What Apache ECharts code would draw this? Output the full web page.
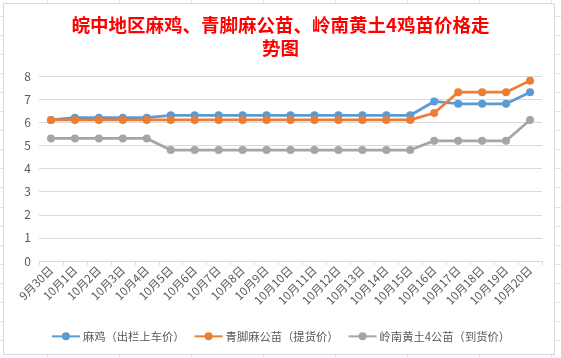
<!DOCTYPE html>
<html><head><meta charset="utf-8">
<script src="https://cdn.jsdelivr.net/npm/echarts@6/dist/echarts.min.js"></script>
<style>html,body{margin:0;padding:0;background:#fff}#c{width:561px;height:358px}</style>
</head><body><div id="c"></div>
<script>
const categories = ['9月30日','10月1日','10月2日','10月3日','10月4日','10月5日','10月6日','10月7日','10月8日','10月9日','10月10日','10月11日','10月12日','10月13日','10月14日','10月15日','10月16日','10月17日','10月18日','10月19日','10月20日'];
const maji = [6.1,6.2,6.2,6.2,6.2,6.3,6.3,6.3,6.3,6.3,6.3,6.3,6.3,6.3,6.3,6.3,6.9,6.8,6.8,6.8,7.3];
const qingjiao = [6.1,6.1,6.1,6.1,6.1,6.1,6.1,6.1,6.1,6.1,6.1,6.1,6.1,6.1,6.1,6.1,6.4,7.3,7.3,7.3,7.8];
const lingnan = [5.3,5.3,5.3,5.3,5.3,4.8,4.8,4.8,4.8,4.8,4.8,4.8,4.8,4.8,4.8,4.8,5.2,5.2,5.2,5.2,6.1];
const seriesNames = ['麻鸡（出栏上车价）','青脚麻公苗（提货价）','岭南黄土4公苗（到货价）'];
const colors = ['#5B9BD5','#ED7D31','#A5A5A5'];
const titleText = '皖中地区麻鸡、青脚麻公苗、岭南黄土4鸡苗价格走\n势图';

const chart = echarts.init(document.getElementById('c'), null, {renderer:'canvas'});
const font = '"Noto Sans CJK SC", "Microsoft YaHei", sans-serif';

// decorative spreadsheet cell lines outside the chart frame
const deco = [];
const vx = [47.5,119.5,191.5,263.5,335.5,407.5,479.5,551.5];
vx.forEach(x => {
  deco.push({type:'line', silent:true, shape:{x1:x,y1:0,x2:x,y2:3}, style:{stroke:'#e3e3e3',lineWidth:1}});
  deco.push({type:'line', silent:true, shape:{x1:x,y1:355,x2:x,y2:358}, style:{stroke:'#e3e3e3',lineWidth:1}});
});
for (let k = 0; k < 19; k++) {
  const y = Math.round(15.5 + 19.1*k) + 0.5;
  deco.push({type:'line', silent:true, shape:{x1:0,y1:y,x2:3,y2:y}, style:{stroke:'#e3e3e3',lineWidth:1}});
  deco.push({type:'line', silent:true, shape:{x1:555,y1:y,x2:561,y2:y}, style:{stroke:'#e3e3e3',lineWidth:1}});
}
deco.push({type:'rect', silent:true, shape:{x:3.5,y:3.5,width:551,height:351}, style:{fill:'none',stroke:'#d9d9d9',lineWidth:1}});

chart.setOption({
  animation:false,
  backgroundColor:'#fff',
  color: colors,
  graphic: deco,
  title:{
    text:titleText, left:'center', top:8,
    textStyle:{color:'#FF0000', fontSize:18.5, fontWeight:'bold', fontFamily:font, lineHeight:23}
  },
  legend:{
    bottom:11, left:'center', itemWidth:28, itemHeight:10, itemGap:9,
    textStyle:{color:'#595959', fontSize:11.3, fontFamily:font, padding:[0,0,0,-2]},
    data: seriesNames
  },
  grid:{left:39, right:19, top:76, bottom:97, containLabel:false},
  xAxis:{
    type:'category', data:categories, boundaryGap:true,
    axisLine:{lineStyle:{color:'#d9d9d9'}},
    axisTick:{show:true, alignWithLabel:false, length:4, lineStyle:{color:'#d9d9d9'}},
    axisLabel:{rotate:45, color:'#595959', fontSize:11.5, fontFamily:font, margin:7, interval:0}
  },
  yAxis:{
    type:'value', min:0, max:8, interval:1,
    axisLine:{show:false}, axisTick:{show:false},
    splitLine:{lineStyle:{color:'#d9d9d9'}},
    axisLabel:{color:'#595959', fontSize:12, fontFamily:font, margin:8}
  },
  series:[maji, qingjiao, lingnan].map((d,i)=>({
    name:seriesNames[i], type:'line', data:d,
    symbol:'circle', symbolSize:8,
    lineStyle:{width:2.75, color:colors[i]},
    itemStyle:{color:colors[i]},
    z: i===1 ? 3 : (i===0 ? 2 : 1)
  }))
});
</script></body></html>
